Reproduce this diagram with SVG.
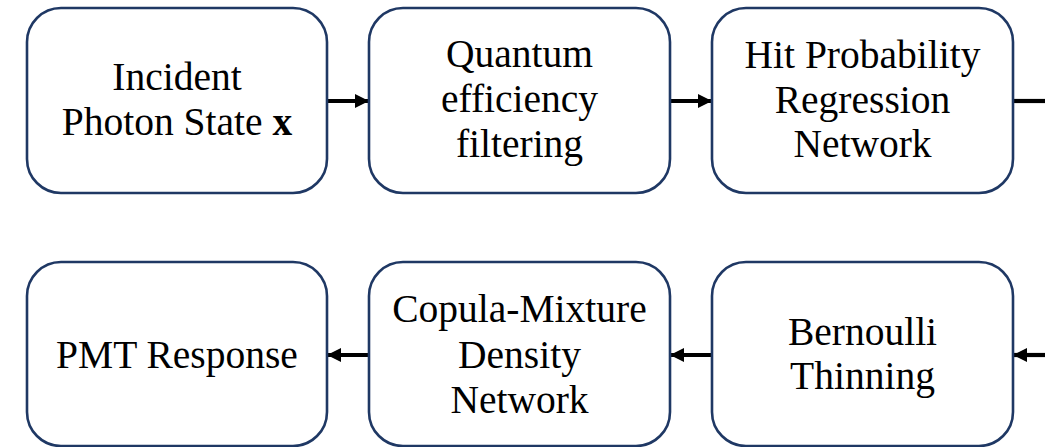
<svg xmlns="http://www.w3.org/2000/svg" width="1045" height="447" viewBox="0 0 1045 447">
  <style>
    .box { fill: #ffffff; stroke: #1f3864; stroke-width: 2.6; }
    .lbl { font-family: "Liberation Serif", "Times New Roman", serif; font-size: 39.5px; fill: #000000; text-anchor: middle; }
    .bold { font-weight: bold; }
    .link { stroke: #000000; stroke-width: 4.2; fill: none; }
  </style>
  <defs>
    <marker id="head" markerUnits="userSpaceOnUse" markerWidth="15" markerHeight="15" refX="13" refY="7" orient="auto">
      <path d="M0,0 L14,7 L0,14 Z" fill="#000000"/>
    </marker>
  </defs>
  <rect width="1045" height="447" fill="#ffffff"/>

  <!-- connectors -->
  <g id="connectors">
    <path class="link" d="M327,101 L368,101" marker-end="url(#head)"/>
    <path class="link" d="M670,101 L711,101" marker-end="url(#head)"/>
    <path class="link" d="M1013,101 L1045,101"/>
    <path class="link" d="M1045,355 L1014,355" marker-end="url(#head)"/>
    <path class="link" d="M712,355 L671,355" marker-end="url(#head)"/>
    <path class="link" d="M369,355 L328,355" marker-end="url(#head)"/>
  </g>

  <!-- top row -->
  <g id="node-incident">
    <rect class="box" x="27" y="8" width="300" height="185" rx="34" ry="34"/>
    <text class="lbl" x="177" y="90">Incident</text>
    <text class="lbl" x="177" y="135">Photon State <tspan class="bold">x</tspan></text>
  </g>
  <g id="node-quantum">
    <rect class="box" x="369" y="8" width="301" height="185" rx="34" ry="34"/>
    <text class="lbl" x="519.5" y="67">Quantum</text>
    <text class="lbl" x="519.5" y="112">efficiency</text>
    <text class="lbl" x="519.5" y="157">filtering</text>
  </g>
  <g id="node-hitprob">
    <rect class="box" x="712" y="8" width="301" height="185" rx="34" ry="34"/>
    <text class="lbl" x="862.5" y="68">Hit Probability</text>
    <text class="lbl" x="862.5" y="113">Regression</text>
    <text class="lbl" x="862.5" y="157">Network</text>
  </g>

  <!-- bottom row -->
  <g id="node-pmt">
    <rect class="box" x="27" y="262" width="300" height="184" rx="34" ry="34"/>
    <text class="lbl" x="177" y="368">PMT Response</text>
  </g>
  <g id="node-copula">
    <rect class="box" x="369" y="262" width="301" height="184" rx="34" ry="34"/>
    <text class="lbl" x="519.5" y="322">Copula-Mixture</text>
    <text class="lbl" x="519.5" y="368">Density</text>
    <text class="lbl" x="519.5" y="413">Network</text>
  </g>
  <g id="node-bernoulli">
    <rect class="box" x="712" y="262" width="301" height="184" rx="34" ry="34"/>
    <text class="lbl" x="862.5" y="345">Bernoulli</text>
    <text class="lbl" x="862.5" y="389">Thinning</text>
  </g>
</svg>
